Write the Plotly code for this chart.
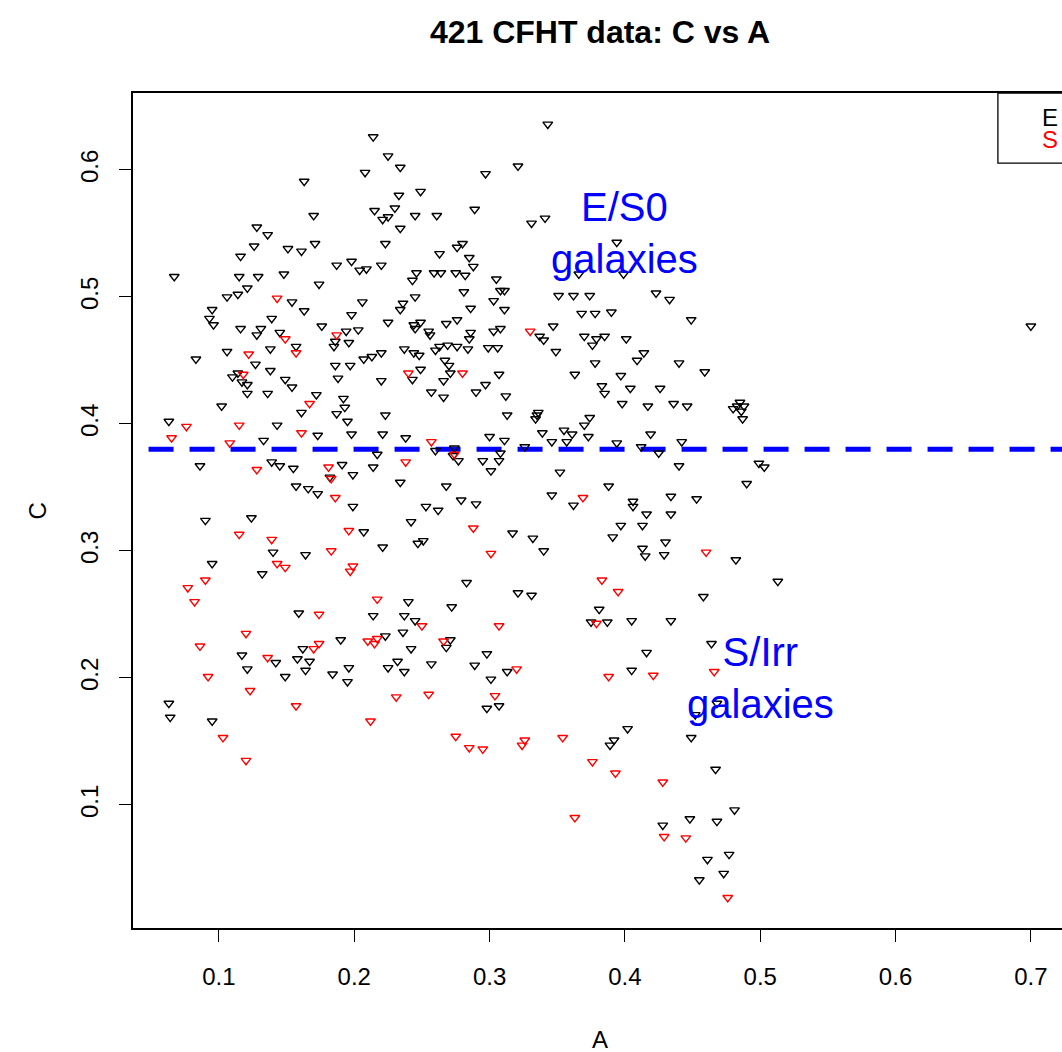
import plotly.graph_objects as go

# (A, C) pairs
e_points = [
    (0.163, 0.591), (0.170, 0.564), (0.128, 0.555), (0.136, 0.549), (0.126, 0.540), (0.151, 0.538),
    (0.161, 0.536), (0.171, 0.542), (0.116, 0.532), (0.067, 0.516), (0.115, 0.516), (0.129, 0.516),
    (0.148, 0.518), (0.187, 0.525), (0.198, 0.528), (0.174, 0.510), (0.121, 0.507), (0.114, 0.502),
    (0.106, 0.500), (0.154, 0.496),
    (0.343, 0.636), (0.214, 0.626), (0.225, 0.611), (0.208, 0.598), (0.234, 0.602), (0.297, 0.597),
    (0.321, 0.603), (0.249, 0.583), (0.233, 0.580), (0.215, 0.568), (0.230, 0.570), (0.221, 0.561),
    (0.225, 0.563), (0.245, 0.564), (0.261, 0.564), (0.289, 0.569), (0.331, 0.558), (0.341, 0.562),
    (0.234, 0.554), (0.223, 0.542), (0.263, 0.534), (0.276, 0.539), (0.280, 0.542), (0.285, 0.531),
    (0.288, 0.524), (0.204, 0.521), (0.209, 0.522), (0.220, 0.525), (0.246, 0.519), (0.243, 0.513),
    (0.259, 0.519), (0.264, 0.519), (0.275, 0.519), (0.282, 0.517), (0.305, 0.514), (0.281, 0.504),
    (0.308, 0.505), (0.311, 0.505), (0.303, 0.497), (0.245, 0.500), (0.236, 0.495), (0.206, 0.496),
    (0.351, 0.501), (0.362, 0.501),
    (0.394, 0.543), (0.366, 0.518), (0.399, 0.518), (0.374, 0.501), (0.423, 0.503), (0.433, 0.498),
    (0.095, 0.490), (0.093, 0.483), (0.096, 0.478), (0.139, 0.483), (0.163, 0.489), (0.116, 0.475),
    (0.131, 0.475), (0.128, 0.470), (0.145, 0.472), (0.176, 0.477), (0.194, 0.473), (0.198, 0.486),
    (0.186, 0.465), (0.185, 0.461), (0.196, 0.464), (0.157, 0.461), (0.106, 0.457), (0.138, 0.459),
    (0.083, 0.451), (0.127, 0.447), (0.186, 0.446), (0.197, 0.446), (0.138, 0.442), (0.114, 0.440),
    (0.110, 0.437), (0.117, 0.433), (0.121, 0.431), (0.121, 0.424), (0.149, 0.435), (0.154, 0.429),
    (0.188, 0.436), (0.136, 0.424), (0.172, 0.423), (0.192, 0.420), (0.193, 0.413), (0.187, 0.408),
    (0.161, 0.409), (0.102, 0.414), (0.195, 0.402), (0.063, 0.402), (0.143, 0.399), (0.173, 0.391),
    (0.133, 0.387), (0.198, 0.392), (0.086, 0.367), (0.139, 0.370), (0.145, 0.367), (0.155, 0.365),
    (0.182, 0.358), (0.191, 0.368), (0.199, 0.360), (0.157, 0.351), (0.166, 0.349), (0.173, 0.345),
    (0.199, 0.335),
    (0.234, 0.490), (0.286, 0.491), (0.311, 0.490), (0.203, 0.474), (0.225, 0.480), (0.244, 0.478),
    (0.249, 0.480), (0.245, 0.475), (0.255, 0.473), (0.256, 0.470), (0.268, 0.479), (0.276, 0.482),
    (0.286, 0.472), (0.285, 0.467), (0.303, 0.473), (0.308, 0.475), (0.347, 0.477), (0.337, 0.469),
    (0.340, 0.466), (0.349, 0.457), (0.207, 0.451), (0.213, 0.453), (0.220, 0.456), (0.237, 0.459),
    (0.244, 0.456), (0.248, 0.454), (0.260, 0.458), (0.263, 0.461), (0.269, 0.462), (0.276, 0.461),
    (0.284, 0.459), (0.299, 0.460), (0.306, 0.460), (0.267, 0.450), (0.270, 0.446), (0.271, 0.440),
    (0.249, 0.443), (0.243, 0.435), (0.220, 0.434), (0.266, 0.434), (0.307, 0.439), (0.297, 0.431),
    (0.290, 0.425), (0.257, 0.425), (0.266, 0.421), (0.312, 0.422), (0.363, 0.439), (0.223, 0.407),
    (0.313, 0.407), (0.336, 0.409), (0.335, 0.407), (0.334, 0.404), (0.221, 0.392), (0.238, 0.389),
    (0.260, 0.379), (0.274, 0.381), (0.273, 0.375), (0.277, 0.371), (0.300, 0.390), (0.311, 0.387),
    (0.308, 0.377), (0.307, 0.371), (0.295, 0.371), (0.301, 0.363), (0.326, 0.382), (0.339, 0.393),
    (0.346, 0.386), (0.355, 0.395), (0.357, 0.386), (0.361, 0.392), (0.217, 0.376), (0.214, 0.366),
    (0.234, 0.354), (0.268, 0.351), (0.352, 0.362), (0.346, 0.344), (0.362, 0.336), (0.279, 0.340),
    (0.290, 0.337), (0.253, 0.335), (0.262, 0.332),
    (0.368, 0.487), (0.378, 0.487), (0.390, 0.488), (0.449, 0.482), (0.370, 0.469), (0.379, 0.467),
    (0.385, 0.469), (0.376, 0.462), (0.401, 0.467), (0.414, 0.456), (0.409, 0.450), (0.378, 0.448),
    (0.440, 0.448), (0.459, 0.441), (0.397, 0.438), (0.383, 0.430), (0.385, 0.424), (0.404, 0.428),
    (0.426, 0.428), (0.398, 0.416), (0.417, 0.414), (0.436, 0.416), (0.446, 0.414), (0.480, 0.412),
    (0.483, 0.414), (0.485, 0.417), (0.488, 0.414), (0.486, 0.410), (0.487, 0.404), (0.374, 0.405),
    (0.370, 0.399), (0.373, 0.390), (0.394, 0.385), (0.419, 0.392), (0.412, 0.382), (0.425, 0.377),
    (0.442, 0.386), (0.440, 0.367), (0.499, 0.369), (0.503, 0.366), (0.490, 0.353), (0.388, 0.351),
    (0.406, 0.339), (0.406, 0.335), (0.434, 0.343), (0.453, 0.341), (0.416, 0.329), (0.434, 0.329),
    (0.090, 0.324), (0.124, 0.326), (0.140, 0.299), (0.164, 0.297), (0.095, 0.290), (0.132, 0.282),
    (0.159, 0.251), (0.190, 0.230), (0.162, 0.223), (0.117, 0.218), (0.142, 0.212), (0.158, 0.215),
    (0.167, 0.213), (0.121, 0.207), (0.164, 0.206), (0.149, 0.201), (0.184, 0.203), (0.196, 0.208),
    (0.195, 0.197), (0.063, 0.180), (0.064, 0.169), (0.095, 0.166),
    (0.242, 0.323), (0.207, 0.315), (0.221, 0.303), (0.247, 0.306), (0.251, 0.308), (0.317, 0.314),
    (0.332, 0.310), (0.340, 0.300), (0.283, 0.275), (0.321, 0.267), (0.331, 0.265), (0.240, 0.260),
    (0.272, 0.256), (0.214, 0.249), (0.237, 0.249), (0.245, 0.245), (0.236, 0.236), (0.223, 0.233),
    (0.271, 0.230), (0.268, 0.224), (0.242, 0.223), (0.298, 0.219), (0.232, 0.213), (0.225, 0.208),
    (0.237, 0.205), (0.257, 0.211), (0.289, 0.210), (0.301, 0.199), (0.313, 0.205), (0.298, 0.176),
    (0.307, 0.178),
    (0.397, 0.320), (0.413, 0.320), (0.391, 0.311), (0.430, 0.307), (0.413, 0.302), (0.415, 0.296),
    (0.429, 0.297), (0.482, 0.293), (0.513, 0.276), (0.458, 0.264), (0.381, 0.254), (0.375, 0.244),
    (0.387, 0.244), (0.405, 0.245), (0.434, 0.245), (0.464, 0.227), (0.416, 0.220), (0.405, 0.206),
    (0.468, 0.180), (0.452, 0.171),
    (0.402, 0.160), (0.392, 0.151), (0.389, 0.147), (0.449, 0.153), (0.467, 0.128), (0.481, 0.096),
    (0.448, 0.089), (0.468, 0.087), (0.428, 0.084), (0.461, 0.057), (0.477, 0.061), (0.473, 0.046),
    (0.455, 0.041),
    (0.700, 0.477),
]

s_points = [
    (0.143, 0.499), (0.149, 0.467), (0.187, 0.470), (0.157, 0.456), (0.122, 0.455), (0.118, 0.439),
    (0.167, 0.416), (0.076, 0.398), (0.115, 0.399), (0.161, 0.393), (0.065, 0.389), (0.108, 0.385),
    (0.128, 0.364), (0.181, 0.366), (0.183, 0.357), (0.186, 0.342),
    (0.330, 0.473), (0.240, 0.440), (0.280, 0.440), (0.257, 0.386), (0.274, 0.376), (0.238, 0.370),
    (0.369, 0.342),
    (0.115, 0.313), (0.139, 0.309), (0.183, 0.300), (0.196, 0.316), (0.143, 0.290), (0.149, 0.287),
    (0.197, 0.284), (0.199, 0.288), (0.090, 0.277), (0.077, 0.271), (0.082, 0.260), (0.174, 0.250),
    (0.120, 0.235), (0.086, 0.225), (0.174, 0.227), (0.170, 0.223), (0.136, 0.216), (0.092, 0.201),
    (0.123, 0.190), (0.157, 0.178),
    (0.288, 0.318), (0.301, 0.298), (0.217, 0.262), (0.250, 0.241), (0.307, 0.241), (0.210, 0.229),
    (0.217, 0.231), (0.215, 0.227), (0.266, 0.229), (0.320, 0.207), (0.231, 0.185), (0.255, 0.187),
    (0.304, 0.186), (0.212, 0.166),
    (0.460, 0.299), (0.383, 0.277), (0.395, 0.268), (0.379, 0.243), (0.388, 0.201), (0.421, 0.202),
    (0.466, 0.205),
    (0.103, 0.153), (0.120, 0.135),
    (0.275, 0.154), (0.285, 0.145), (0.295, 0.144), (0.324, 0.147), (0.326, 0.151), (0.354, 0.153),
    (0.363, 0.090),
    (0.376, 0.134), (0.393, 0.125), (0.428, 0.118), (0.429, 0.075), (0.445, 0.074), (0.476, 0.027),
]

cut_c = 0.38
cut_a = [0.048, 0.73]
x_ticks = [0.1, 0.2, 0.3, 0.4, 0.5, 0.6, 0.7]
y_ticks = [0.1, 0.2, 0.3, 0.4, 0.5, 0.6]

FONT = "Liberation Sans, Arial, Helvetica, sans-serif"

e_a = [p[0] for p in e_points]
e_c = [p[1] for p in e_points]
s_a = [p[0] for p in s_points]
s_c = [p[1] for p in s_points]

fig = go.Figure()

fig.add_trace(go.Scatter(
    x=cut_a, y=[cut_c, cut_c], mode="lines",
    line=dict(color="#0000ff", width=5, dash="25px,16px"),
    showlegend=False, hoverinfo="skip",
))

marker_common = dict(symbol="triangle-down-open", size=8.5)
fig.add_trace(go.Scatter(
    x=e_a, y=e_c, mode="markers", name="E",
    marker=dict(color="black", line=dict(width=1.4, color="black"), **marker_common),
    showlegend=False,
))
fig.add_trace(go.Scatter(
    x=s_a, y=s_c, mode="markers", name="S",
    marker=dict(color="red", line=dict(width=1.4, color="red"), **marker_common),
    showlegend=False,
))

# region labels
fig.add_annotation(x=0.40, y=0.55, text="E/S0<br>galaxies", showarrow=False,
                   font=dict(size=40, color="#0000ff", family=FONT))
fig.add_annotation(x=0.50, y=0.20, text="S/Irr<br>galaxies", showarrow=False,
                   font=dict(size=40, color="#0000ff", family=FONT))

# axis titles
fig.add_annotation(xref="paper", yref="paper", x=0.5027, y=0, yshift=-111,
                   xanchor="center", yanchor="middle",
                   text="A", showarrow=False, font=dict(size=24, color="black", family=FONT))
fig.add_annotation(xref="paper", yref="paper", x=-0.1023, y=0.5, textangle=-90,
                   xanchor="center", yanchor="middle",
                   text="C", showarrow=False, font=dict(size=24, color="black", family=FONT))

# legend box (text only, cut off at the right edge)
fig.add_shape(type="rect", xref="paper", yref="paper", x0=0.931, x1=1.02, y0=0.916, y1=1.0,
              line=dict(color="black", width=1.3), fillcolor="rgba(0,0,0,0)")
fig.add_annotation(xref="paper", yref="paper", x=0.976, y=0.971, xanchor="left", yanchor="middle",
                   text="E", showarrow=False, font=dict(size=24, color="black", family=FONT))
fig.add_annotation(xref="paper", yref="paper", x=0.976, y=0.944, xanchor="left", yanchor="middle",
                   text="S", showarrow=False, font=dict(size=24, color="red", family=FONT))

fig.update_layout(
    width=1062, height=1052,
    margin=dict(l=133, r=0, t=93, b=124),
    paper_bgcolor="white", plot_bgcolor="white",
    title=dict(text="<b>421 CFHT data: C vs A</b>", x=600 / 1062, xanchor="center",
               y=1 - 32 / 1052, yanchor="middle", yref="container", xref="container",
               font=dict(size=32, color="black", family=FONT)),
    font=dict(family=FONT, color="black"),
)
fig.update_xaxes(
    range=[0.0365, 0.7230], tickvals=x_ticks, ticktext=[f"{v:.1f}" for v in x_ticks],
    showgrid=False, zeroline=False, showline=True, linecolor="black", linewidth=1.5,
    mirror=True, ticks="outside", ticklen=12, tickwidth=1.3, tickcolor="black",
    tickfont=dict(size=24, family=FONT), ticklabelstandoff=14,
)
fig.update_yaxes(
    range=[0.0031, 0.6606], tickvals=y_ticks, ticktext=[f"{v:.1f}" for v in y_ticks],
    showgrid=False, zeroline=False, showline=True, linecolor="black", linewidth=1.5,
    mirror=False, ticks="outside", ticklen=12, tickwidth=1.3, tickcolor="black",
    tickangle=-90, tickfont=dict(size=24, family=FONT), ticklabelstandoff=12,
)

# drop the default page margin so the figure fills the window exactly
fig.write_html(
    "out.html",
    config={"displayModeBar": False},
    post_script="document.body.style.margin='0';document.body.style.overflow='hidden';",
)
